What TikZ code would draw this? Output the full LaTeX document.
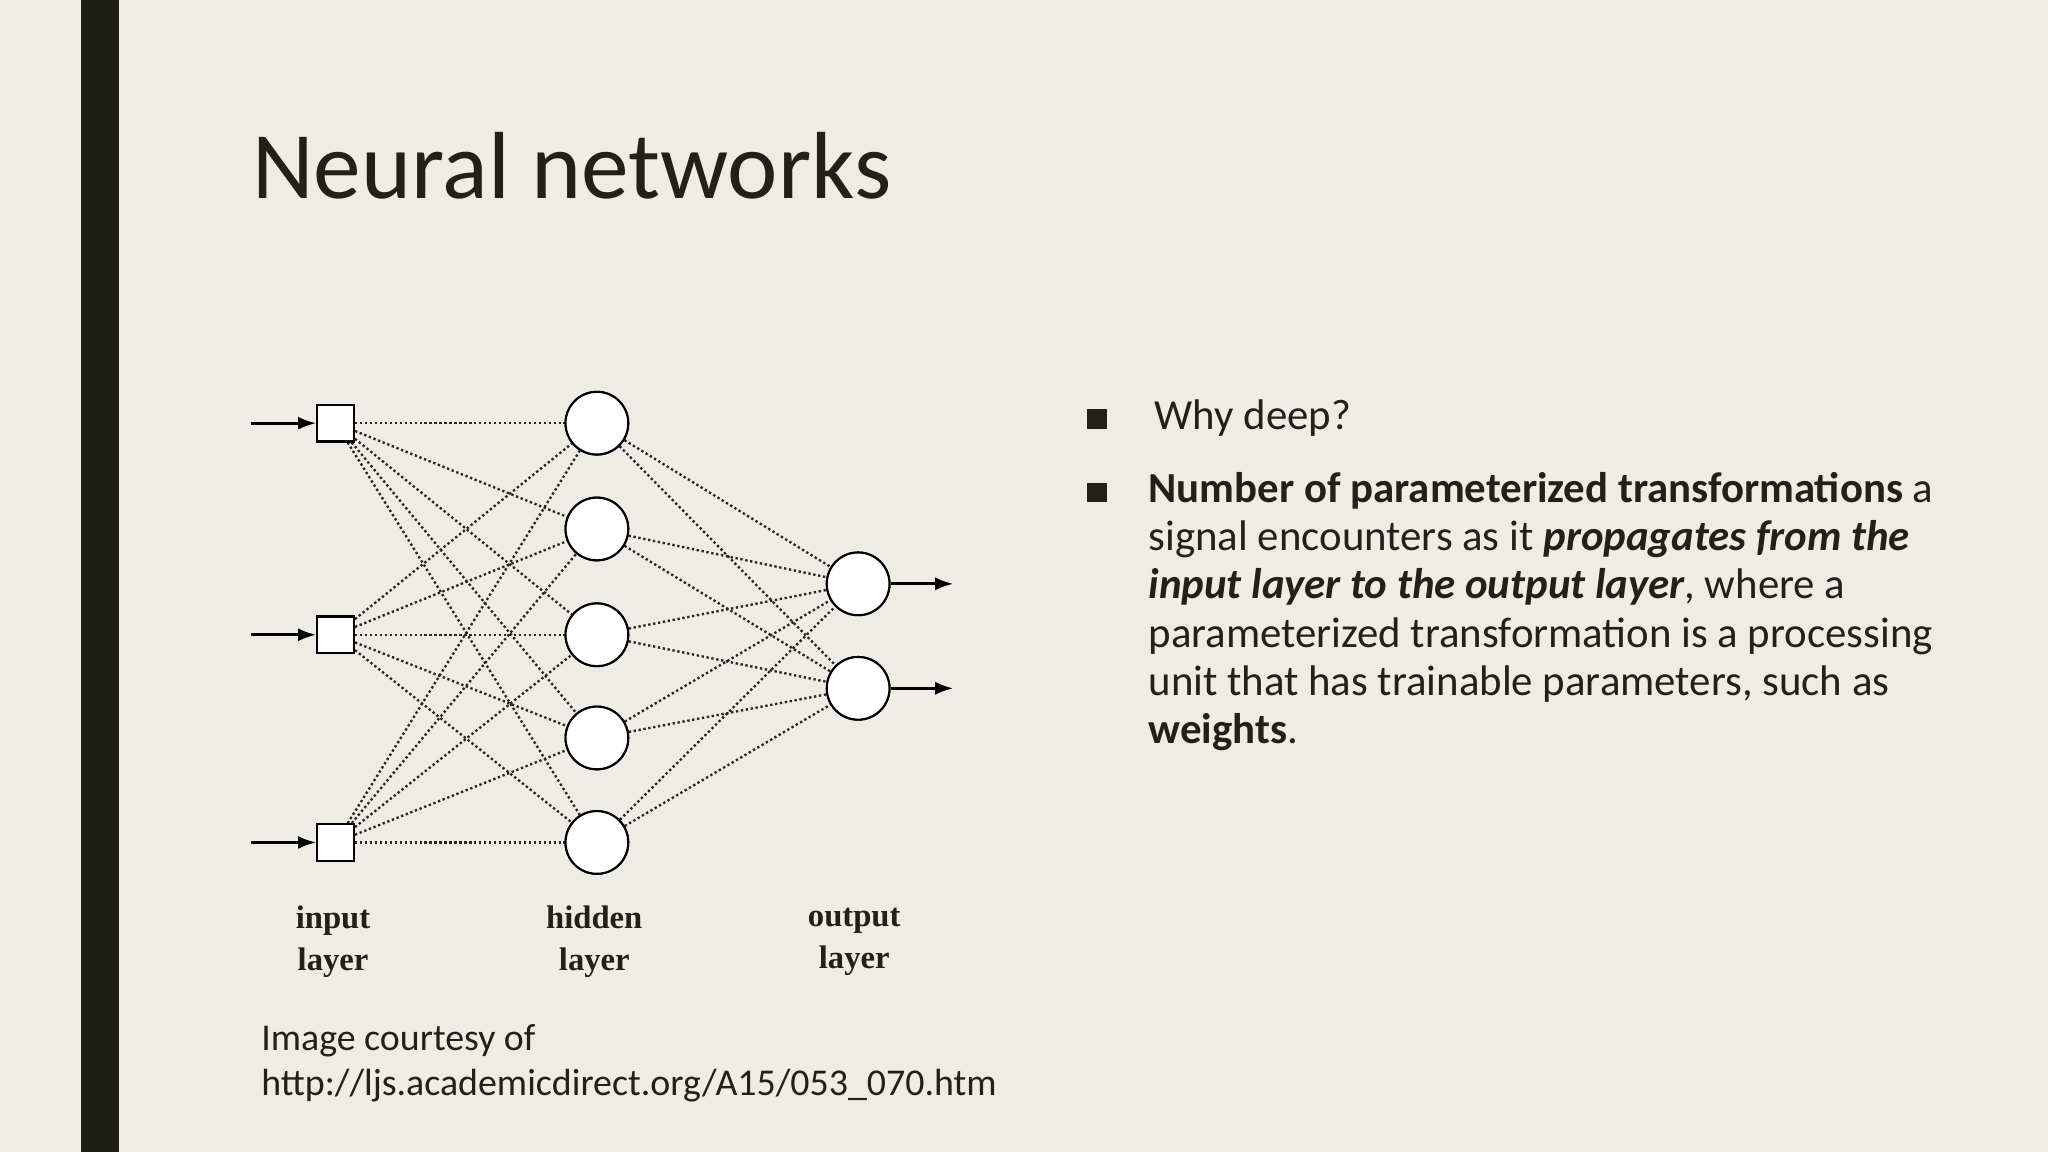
\documentclass[tikz,border=0pt]{standalone}
\usepackage{fontspec}
\setmainfont{Carlito}
\newfontfamily\serifd{Liberation Serif}
\usetikzlibrary{arrows.meta}
\definecolor{bg}{HTML}{EFECE6}
\definecolor{bar}{HTML}{1E1E18}
\definecolor{ink}{HTML}{231F1A}
\begin{document}
\begin{tikzpicture}[x=0.5pt,y=-0.5pt,
  sq/.style={draw,thick,fill=white,minimum size=14pt,inner sep=0pt},
  neuron/.style={draw,thick,fill=white,circle,minimum size=24pt,inner sep=0pt},
  wire/.style={black!85,densely dotted,line width=0.9pt},
  arr/.style={line width=1.1pt,-{Latex[length=7pt,width=5pt]}},
  lab/.style={font=\serifd\bfseries\fontsize{12.5}{16}\selectfont,align=center,text=ink}]
\fill[bg] (0,0) rectangle (1568,882);
\useasboundingbox (0,0) rectangle (1568,882);
\fill[bar] (62,0) rectangle (91,882);
\node[anchor=base west,text=ink,font=\fontsize{36.5}{40}\selectfont] (title) at (186,152) {Neural networks};
% nodes
\foreach \n/\y in {1/324,2/486,3/645} \node[sq] (i\n) at (257,\y) {};
\foreach \n/\y in {1/324,2/405,3/486,4/565,5/645} \node[neuron] (h\n) at (457,\y) {};
\foreach \n/\y in {1/447,2/527} \node[neuron] (o\n) at (657,\y) {};
\foreach \a in {1,2,3} \foreach \b in {1,...,5} \draw[wire] (i\a) -- (h\b);
\foreach \a in {1,...,5} \foreach \b in {1,2} \draw[wire] (h\a) -- (o\b);
\foreach \n/\y in {1/324,2/486,3/645} {\coordinate (s\n) at (192,\y); \draw[arr] (s\n) -- (i\n);}
\foreach \n/\y in {1/447,2/527} {\coordinate (e\n) at (730,\y); \draw[arr] (o\n) -- (e\n);}
\foreach \n/\y in {1/324,2/486,3/645} \node[sq] at (257,\y) {};
\foreach \n/\y in {1/324,2/405,3/486,4/565,5/645} \node[neuron] at (457,\y) {};
\foreach \n/\y in {1/447,2/527} \node[neuron] at (657,\y) {};
\node[lab] (li) at (255,721) {input\\layer};
\node[lab] (lh) at (455,721) {hidden\\layer};
\node[lab] (lo) at (654,721) {output\\layer};
\node[anchor=north west,align=left,text=ink,font=\fontsize{14.5}{17.5}\selectfont] (cap) at (193,777) {Image courtesy of\\http://ljs.academicdirect.org/A15/053\_070.htm};
% bullets
\node[fill=ink,minimum size=7.5pt,inner sep=0pt] (b1) at (840,321) {};
\node[fill=ink,minimum size=7.5pt,inner sep=0pt] (b2) at (840,377) {};
\node[anchor=base west,text=ink,font=\fontsize{16.4}{18.5}\selectfont] (t1) at (877,329) {Why deep?};
\node[anchor=north west,align=left,text=ink,inner sep=0pt,font=\fontsize{16.4}{18.5}\selectfont] (t2) at (879,361) {\textbf{Number of parameterized transformations} a\\signal encounters as it \textbf{\itshape propagates from the}\\\textbf{\itshape input layer to the output layer}, where a\\parameterized transformation is a processing\\unit that has trainable parameters, such as\\\textbf{weights}.};
\end{tikzpicture}
\end{document}
